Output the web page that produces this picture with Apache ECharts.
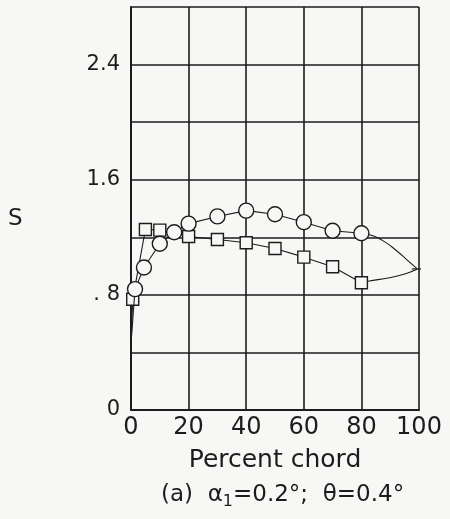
<!DOCTYPE html>
<html>
<head>
<meta charset="utf-8">
<script src="https://cdn.jsdelivr.net/npm/echarts@6/dist/echarts.min.js"></script>
<style>
  html, body { margin: 0; padding: 0; background: #f7f7f5; }
  #chart { width: 450px; height: 519px; }
</style>
</head>
<body>
<div id="chart"></div>
<script>
// Percent-chord stations and S values for the two measured distributions
const chordCircle = [1.4, 4.5, 10, 15, 20, 30, 40, 50, 60, 70, 80];
const sCircle     = [0.84, 0.99, 1.155, 1.235, 1.295, 1.345, 1.385, 1.36, 1.305, 1.245, 1.228];
const chordSquare = [0.6, 5, 10, 20, 30, 40, 50, 60, 70, 80];
const sSquare     = [0.77, 1.254, 1.25, 1.205, 1.185, 1.162, 1.122, 1.062, 0.995, 0.884];

// Faired leading-edge start and trailing-edge closure
const leadingEdge  = [0, 0.46];
const trailingEdge = [99.4, 0.98];
const fairCircleX = [80, 84, 88, 92, 96, 99.4];
const fairCircleY = [1.228, 1.21, 1.17, 1.11, 1.04, 0.98];
const fairSquareX = [80, 82.3, 89.8, 95.6, 99.4];
const fairSquareY = [0.884, 0.895, 0.919, 0.949, 0.98];
const teTickX = [97.5, 103];

// Axis ticks
const xTicks = [0, 20, 40, 60, 80, 100];
const yLabelMap = { '0': '0', '0.8': '. 8', '1.6': '1.6', '2.4': '2.4' };

const ink = '#1c1c1c';
const paper = '#f7f7f5';
const font = 'DejaVu Sans';

const zip = (xs, ys) => xs.map((x, i) => [x, ys[i]]);
// the faired start point carries no marker
const withStart = (xs, ys) => [{ value: leadingEdge, symbol: 'none' }].concat(zip(xs, ys));

const chart = echarts.init(document.getElementById('chart'), null, { renderer: 'canvas' });

chart.setOption({
  backgroundColor: paper,
  animation: false,
  grid: { left: 131, right: 31, top: 7, bottom: 109, containLabel: false },
  xAxis: {
    type: 'value', min: 0, max: 100, interval: 20,
    axisLine: { show: true, lineStyle: { color: ink, width: 2 } },
    axisTick: { show: false },
    splitLine: { show: true, lineStyle: { color: ink, width: 1.6 } },
    axisLabel: {
      color: ink, fontFamily: font, fontSize: 24, margin: 6,
      formatter: v => xTicks.includes(v) ? String(v) : ''
    },
    name: 'Percent chord', nameLocation: 'middle', nameGap: 38,
    nameTextStyle: { color: ink, fontFamily: font, fontSize: 25 }
  },
  yAxis: {
    type: 'value', min: 0, max: 2.8, interval: 0.4,
    axisLine: { show: true, lineStyle: { color: ink, width: 2 } },
    axisTick: { show: false },
    splitLine: { show: true, lineStyle: { color: ink, width: 1.6 } },
    axisLabel: {
      color: ink, fontFamily: font, fontSize: 21, margin: 11,
      formatter: v => {
        const k = String(Math.round(v * 10) / 10);
        return yLabelMap[k] !== undefined ? yLabelMap[k] : '';
      }
    }
  },
  graphic: [
    {
      type: 'text', left: 8, top: 208,
      style: { text: 'S', fill: ink, font: '23px "DejaVu Sans"' }
    },
    {
      type: 'text', left: 161, top: 482,
      style: {
        text: '{t|(a)  α}{s|1}{t|=0.2°;  θ=0.4°}',
        fill: ink,
        rich: {
          t: { fontFamily: font, fontSize: 23, fill: ink, verticalAlign: 'top', lineHeight: 26 },
          s: { fontFamily: font, fontSize: 16, fill: ink, verticalAlign: 'bottom', lineHeight: 26, padding: [12, 0, 0, 0] }
        }
      }
    }
  ],
  series: [
    {
      name: 'circle', type: 'line',
      data: withStart(chordCircle, sCircle),
      symbol: 'circle', symbolSize: 15,
      showAllSymbol: true,
      lineStyle: { color: ink, width: 1.1 },
      itemStyle: { color: paper, borderColor: ink, borderWidth: 1.4 },
      z: 5
    },
    {
      name: 'square', type: 'line',
      data: withStart(chordSquare, sSquare),
      symbol: 'rect', symbolSize: 12,
      showAllSymbol: true,
      lineStyle: { color: ink, width: 1.1 },
      itemStyle: { color: paper, borderColor: ink, borderWidth: 1.4 },
      z: 4
    },
    {
      name: 'circle-fair', type: 'line', smooth: 0.5, symbol: 'none',
      data: zip(fairCircleX, fairCircleY),
      lineStyle: { color: ink, width: 1.1 }, z: 3
    },
    {
      name: 'square-fair', type: 'line', smooth: 0.5, symbol: 'none',
      data: zip(fairSquareX, fairSquareY),
      lineStyle: { color: ink, width: 1.1 }, z: 3
    },
    {
      name: 'te-tick', type: 'line', symbol: 'none', clip: false,
      data: teTickX.map(x => [x, trailingEdge[1]]),
      lineStyle: { color: ink, width: 1.2 }, z: 3
    }
  ]
});
</script>
</body>
</html>
